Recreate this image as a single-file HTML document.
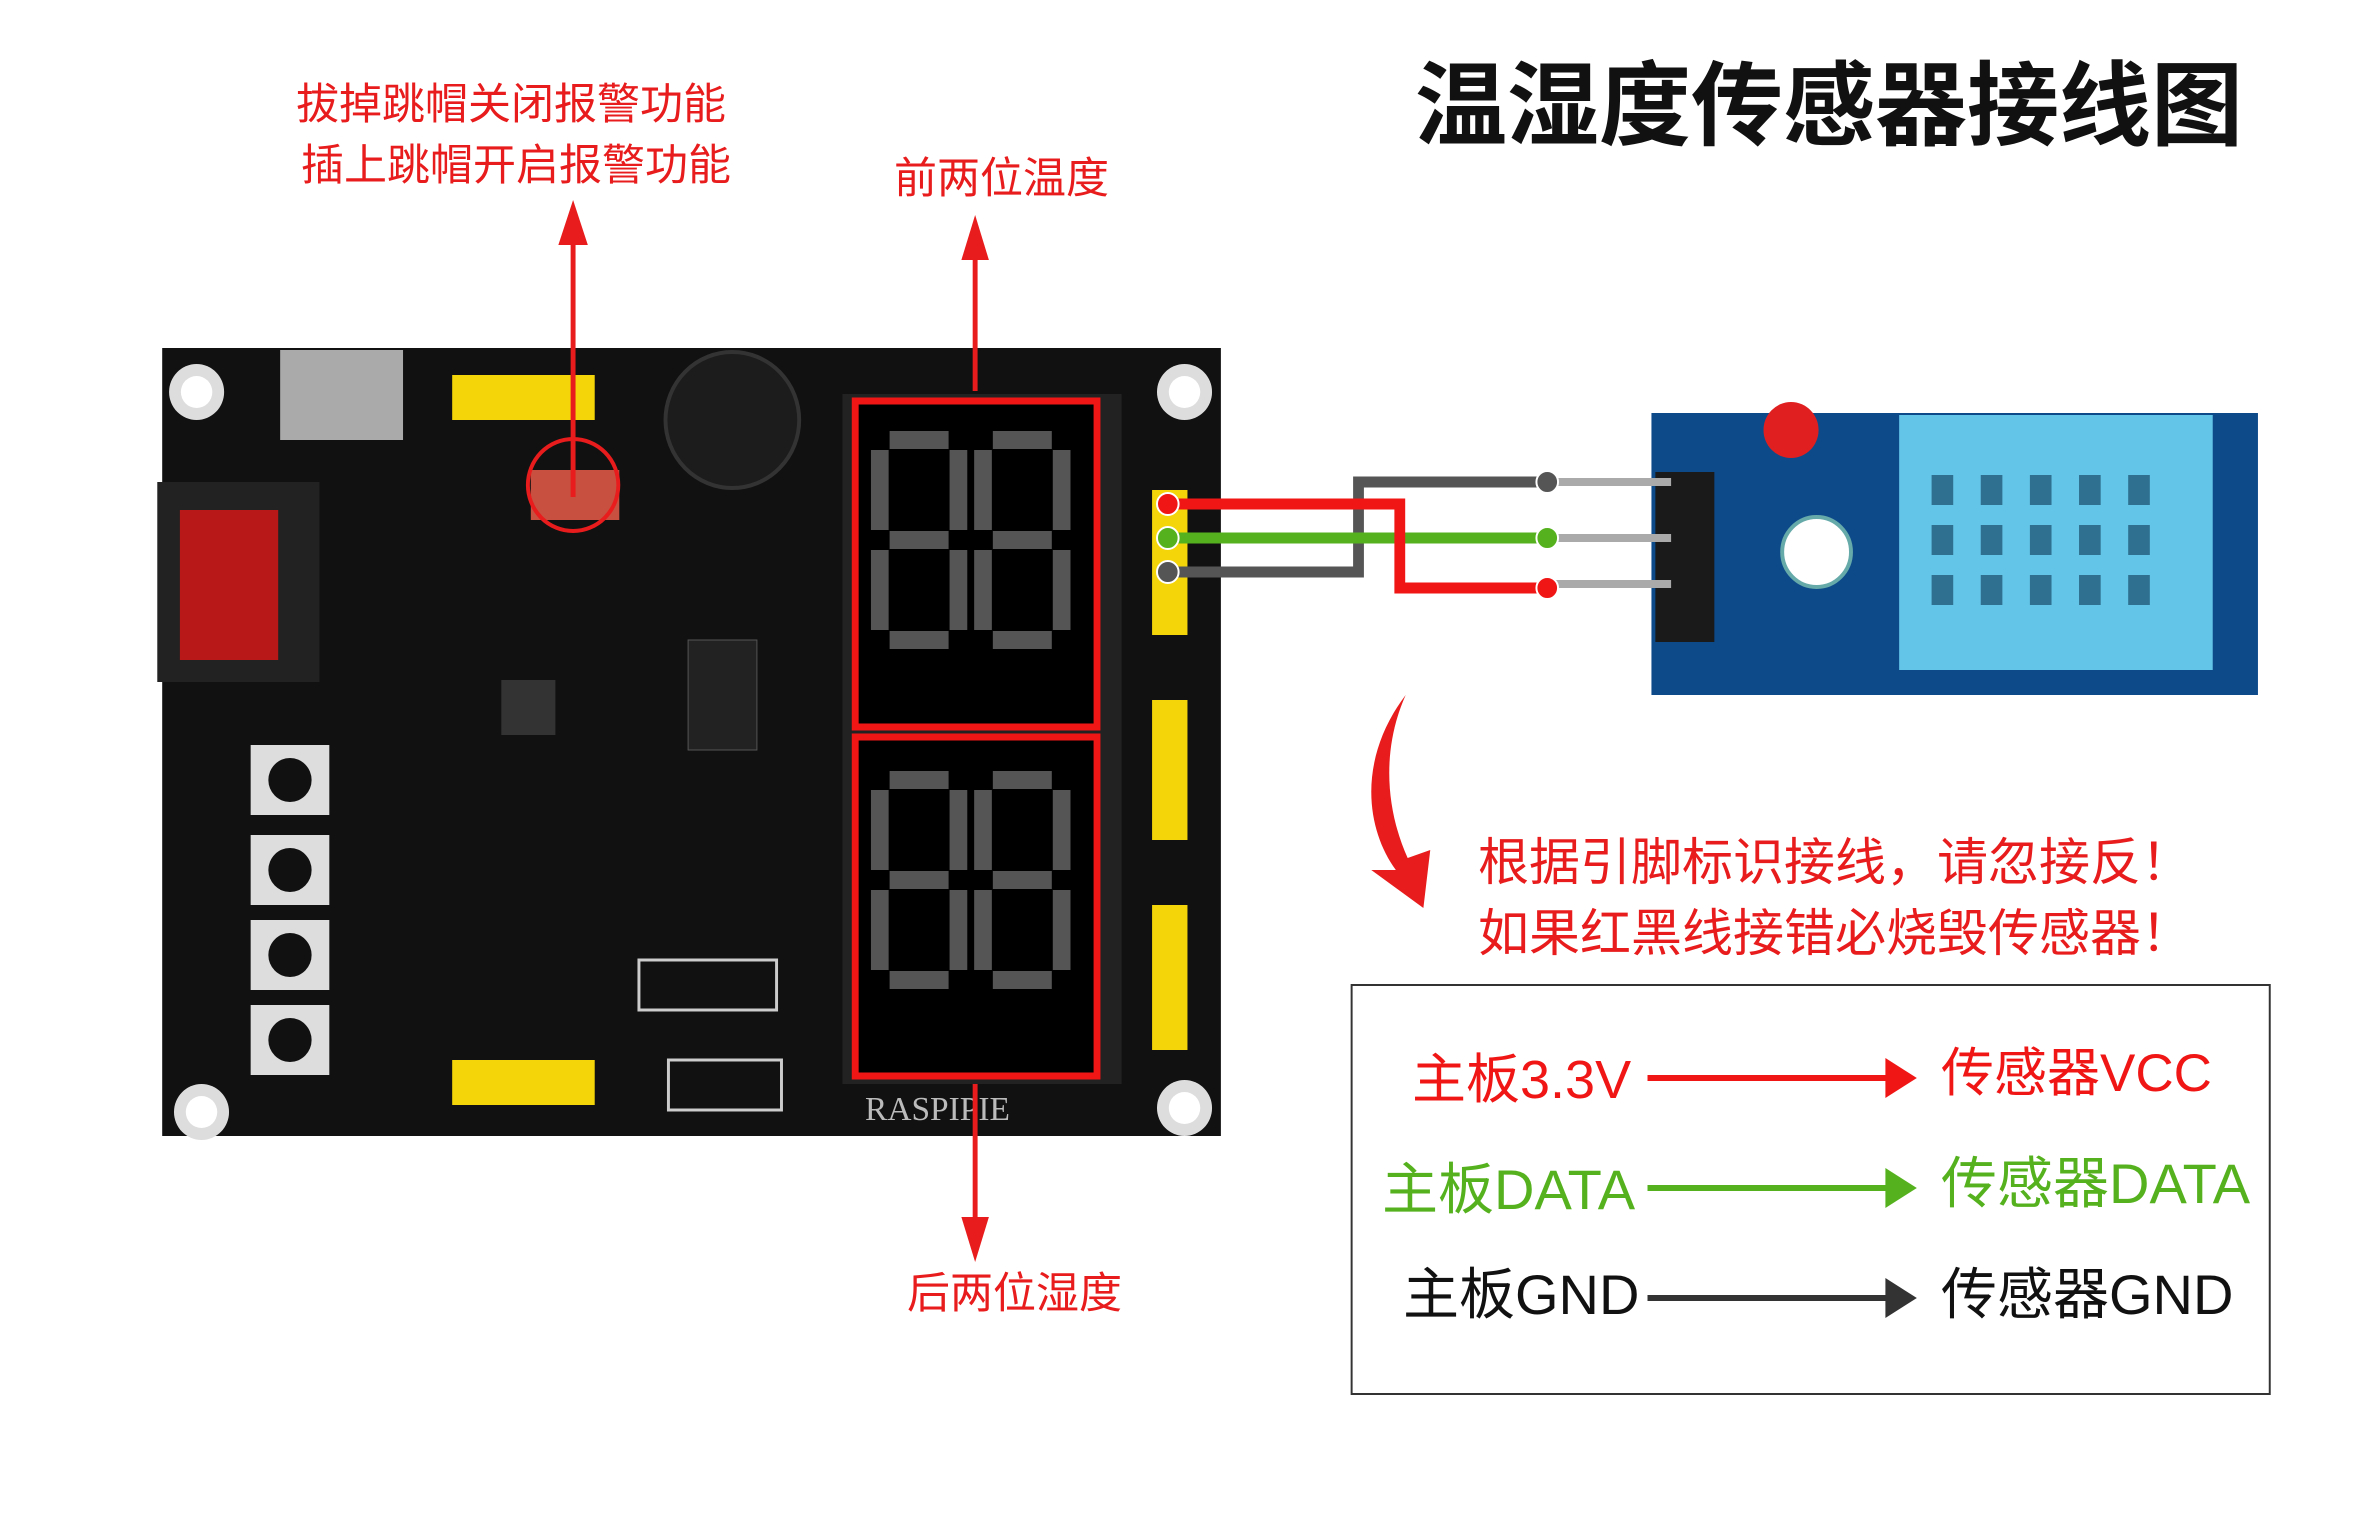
<!DOCTYPE html>
<html><head><meta charset="utf-8"><style>
html,body{margin:0;padding:0;background:#fff;}
body{width:2366px;height:1525px;overflow:hidden;position:relative;font-family:"Liberation Sans","Noto Sans CJK SC",sans-serif;}
.t{position:absolute;white-space:nowrap;line-height:1;}
</style></head><body>
<svg width="2366" height="1525" style="position:absolute;left:0;top:0">
<g transform="scale(0.983,1)">
<!-- board -->
<rect x="165" y="348" width="1077" height="788" fill="#111"/>
<circle cx="200" cy="392" r="28" fill="#ddd"/><circle cx="200" cy="392" r="16" fill="#fff"/>
<circle cx="1205" cy="392" r="28" fill="#ddd"/><circle cx="1205" cy="392" r="16" fill="#fff"/>
<circle cx="205" cy="1112" r="28" fill="#ddd"/><circle cx="205" cy="1112" r="16" fill="#fff"/>
<circle cx="1205" cy="1108" r="28" fill="#ddd"/><circle cx="1205" cy="1108" r="16" fill="#fff"/>
<rect x="285" y="350" width="125" height="90" fill="#aaa"/>
<rect x="160" y="482" width="165" height="200" fill="#222"/>
<rect x="183" y="510" width="100" height="150" fill="#b81818"/>
<circle cx="745" cy="420" r="68" fill="#1c1c1c" stroke="#333" stroke-width="4"/>
<rect x="460" y="375" width="145" height="45" fill="#f3d50a"/>
<rect x="460" y="1060" width="145" height="45" fill="#f3d50a"/>
<rect x="1172" y="490" width="36" height="145" fill="#f3d50a"/>
<rect x="1172" y="700" width="36" height="140" fill="#f3d50a"/>
<rect x="1172" y="905" width="36" height="145" fill="#f3d50a"/>
<rect x="540" y="470" width="90" height="50" fill="#c85040"/>
<circle cx="583" cy="485" r="46" fill="none" stroke="#e81c1c" stroke-width="4"/>
<rect x="650" y="960" width="140" height="50" fill="none" stroke="#ccc" stroke-width="3"/>
<rect x="680" y="1060" width="115" height="50" fill="none" stroke="#ccc" stroke-width="3"/>
<g fill="#ddd">
<rect x="255" y="745" width="80" height="70"/><rect x="255" y="835" width="80" height="70"/><rect x="255" y="920" width="80" height="70"/><rect x="255" y="1005" width="80" height="70"/>
</g>
<g fill="#111"><circle cx="295" cy="780" r="22"/><circle cx="295" cy="870" r="22"/><circle cx="295" cy="955" r="22"/><circle cx="295" cy="1040" r="22"/></g>
<rect x="510" y="680" width="55" height="55" fill="#333"/>
<rect x="700" y="640" width="70" height="110" fill="#222" stroke="#555"/>
<!-- display -->
<rect x="857" y="394" width="284" height="690" fill="#222"/>
<rect x="870" y="401" width="246" height="326" fill="#000" stroke="#f01616" stroke-width="7"/>
<rect x="870" y="737" width="246" height="339" fill="#000" stroke="#f01616" stroke-width="7"/>
<g fill="none" stroke="#555" stroke-width="18">
<path d="M905 440h60M895 450v80M975 450v80M905 540h60M895 550v80M975 550v80M905 640h60"/>
<path d="M1010 440h60M1000 450v80M1080 450v80M1010 540h60M1000 550v80M1080 550v80M1010 640h60"/>
<path d="M905 780h60M895 790v80M975 790v80M905 880h60M895 890v80M975 890v80M905 980h60"/>
<path d="M1010 780h60M1000 790v80M1080 790v80M1010 880h60M1000 890v80M1080 890v80M1010 980h60"/>
</g>
<text x="880" y="1120" fill="#bbb" font-family="Liberation Serif" font-size="34">RASPIPIE</text>
<!-- sensor module -->
<rect x="1680" y="413" width="617" height="282" fill="#0d4a8a"/>
<rect x="1932" y="415" width="319" height="255" fill="#63c5e8"/>
<g fill="#2f6f8f">
<rect x="1965" y="475" width="22" height="30"/><rect x="2015" y="475" width="22" height="30"/><rect x="2065" y="475" width="22" height="30"/><rect x="2115" y="475" width="22" height="30"/><rect x="2165" y="475" width="22" height="30"/>
<rect x="1965" y="525" width="22" height="30"/><rect x="2015" y="525" width="22" height="30"/><rect x="2065" y="525" width="22" height="30"/><rect x="2115" y="525" width="22" height="30"/><rect x="2165" y="525" width="22" height="30"/>
<rect x="1965" y="575" width="22" height="30"/><rect x="2015" y="575" width="22" height="30"/><rect x="2065" y="575" width="22" height="30"/><rect x="2115" y="575" width="22" height="30"/><rect x="2165" y="575" width="22" height="30"/>
</g>
<circle cx="1822" cy="430" r="28" fill="#e02020"/>
<circle cx="1848" cy="552" r="35" fill="#fff" stroke="#6aa" stroke-width="4"/>
<rect x="1684" y="472" width="60" height="170" fill="#1a1a1a"/>
<g stroke="#aaa" stroke-width="8"><path d="M1574 482H1700M1574 538H1700M1574 584H1700"/></g>
<!-- wires -->
<g fill="none" stroke-width="11">
<path d="M1188 572H1382V482H1574" stroke="#555"/>
<path d="M1188 538H1574" stroke="#55b21e"/>
<path d="M1188 504H1424V588H1574" stroke="#f01616"/>
</g>
<circle cx="1188" cy="504" r="11" fill="#f01616" stroke="#fff" stroke-width="2"/>
<circle cx="1188" cy="538" r="11" fill="#55b21e" stroke="#fff" stroke-width="2"/>
<circle cx="1188" cy="572" r="11" fill="#555" stroke="#fff" stroke-width="2"/>
<circle cx="1574" cy="482" r="11" fill="#555" stroke="#fff" stroke-width="2"/>
<circle cx="1574" cy="538" r="11" fill="#55b21e" stroke="#fff" stroke-width="2"/>
<circle cx="1574" cy="588" r="11" fill="#f01616" stroke="#fff" stroke-width="2"/>
<!-- red arrows -->
<g stroke="#e81c1c" stroke-width="5" fill="#e81c1c">
<path d="M583 497V240"/><path d="M568 245L583 200L598 245z" stroke="none"/>
<path d="M992 391V255"/><path d="M978 260L992 215L1006 260z" stroke="none"/>
<path d="M992 1084V1222"/><path d="M978 1217L992 1262L1006 1217z" stroke="none"/>
</g>
<path d="M1430 695C1380 760 1390 830 1420 870L1395 870L1448 908L1455 850L1432 858C1410 810 1405 750 1430 695z" fill="#e81c1c"/>
<!-- legend box -->
<rect x="1375" y="985" width="934" height="409" fill="none" stroke="#333" stroke-width="2"/>
<g stroke-width="6">
<path d="M1676 1078H1925" stroke="#f01616"/><path d="M1918 1058L1950 1078L1918 1098z" fill="#f01616"/>
<path d="M1676 1188H1925" stroke="#55b21e"/><path d="M1918 1168L1950 1188L1918 1208z" fill="#55b21e"/>
<path d="M1676 1298H1925" stroke="#333"/><path d="M1918 1278L1950 1298L1918 1318z" fill="#333"/>
</g>
</g>
</svg>
<div class="t" style="left:1415px;top:61px;font-size:92px;font-weight:bold;color:#111;">温湿度传感器接线图</div>
<div class="t" style="left:296px;top:84px;font-size:43px;color:#e81c1c;">拔掉跳帽关闭报警功能</div>
<div class="t" style="left:301px;top:145px;font-size:43px;color:#e81c1c;">插上跳帽开启报警功能</div>
<div class="t" style="left:894px;top:158px;font-size:43px;color:#e81c1c;">前两位温度</div>
<div class="t" style="left:907px;top:1273px;font-size:43px;color:#e81c1c;">后两位湿度</div>
<div class="t" style="left:1478px;top:837px;font-size:51px;color:#e81c1c;">根据引脚标识接线，请忽接反！</div>
<div class="t" style="left:1478px;top:908px;font-size:51px;color:#e81c1c;">如果红黑线接错必烧毁传感器！</div>
<div class="t" style="left:1412px;top:1053px;font-size:54px;color:#f01616;">主板3.3V</div>
<div class="t" style="left:1941px;top:1047px;font-size:53px;color:#f01616;">传感器VCC</div>
<div class="t" style="left:1382px;top:1162px;font-size:56px;color:#55b21e;">主板DATA</div>
<div class="t" style="left:1941px;top:1156px;font-size:56px;color:#55b21e;">传感器DATA</div>
<div class="t" style="left:1403px;top:1267px;font-size:56px;color:#111;">主板GND</div>
<div class="t" style="left:1941px;top:1267px;font-size:56px;color:#111;">传感器GND</div>
</body></html>
